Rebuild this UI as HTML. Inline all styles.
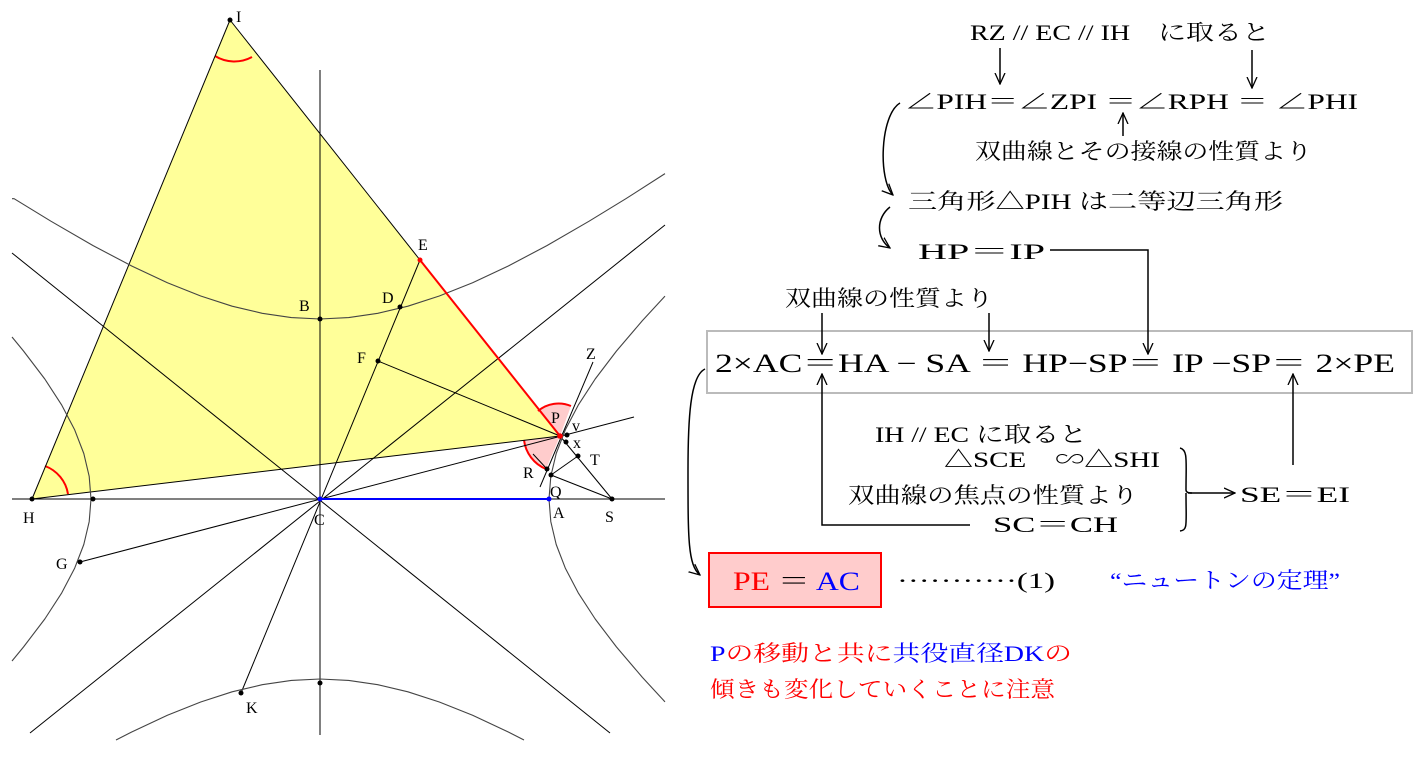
<!DOCTYPE html>
<html><head><meta charset="utf-8"><style>
html,body{margin:0;padding:0;background:#fff}
svg{display:block}
.t{font-family:"Liberation Serif","Noto Serif CJK JP","Noto Serif CJK SC",serif;fill:#000}
.s{font-family:"Liberation Serif",serif;font-size:16px;fill:#000}
</style></head><body>
<svg width="1427" height="757" viewBox="0 0 1427 757" xmlns="http://www.w3.org/2000/svg">
<defs>
<marker id="ah" viewBox="0 0 12 12" refX="11" refY="6" markerWidth="12" markerHeight="12" markerUnits="userSpaceOnUse" orient="auto">
<path d="M0,1 L11,6 L0,11" fill="none" stroke="#000" stroke-width="1.3"/>
</marker>
</defs>
<polygon points="230,20 32,499 560,436" fill="#ffff99"/>
<path d="M560,436 L538,411 A32,32 0 0 1 571,406 Z" fill="#ffcccc" stroke="none"/>
<path d="M538,411 A32,32 0 0 1 571,406" fill="none" stroke="#f00" stroke-width="2"/>
<path d="M560,436 L524,440 A36,36 0 0 0 546,469 Z" fill="#ffcccc" stroke="none"/>
<path d="M524,440 A36,36 0 0 0 546,469" fill="none" stroke="#f00" stroke-width="2"/>
<path d="M215,56 A37,37 0 0 0 252,57" fill="none" stroke="#f00" stroke-width="2"/>
<path d="M45,466 A36,36 0 0 1 68,494" fill="none" stroke="#f00" stroke-width="2"/>
<g fill="none" stroke="#000" stroke-width="1">
<line x1="12" y1="499" x2="665" y2="499"/>
<line x1="320" y1="70" x2="320" y2="735"/>
<line x1="12" y1="253" x2="610" y2="733"/>
<line x1="665" y1="225" x2="30" y2="733"/>
<line x1="80" y1="562" x2="634" y2="417"/>
<line x1="241" y1="693" x2="420" y2="260"/>
<line x1="230" y1="20" x2="32" y2="499"/>
<line x1="230" y1="20" x2="420" y2="260"/>
<line x1="32" y1="499" x2="560" y2="436"/>
<line x1="378" y1="361" x2="560" y2="436"/>
<line x1="540" y1="487" x2="593" y2="362"/>
<line x1="560" y1="436" x2="612" y2="499"/>
<line x1="551" y1="475" x2="612" y2="499"/>
<line x1="551" y1="475" x2="578" y2="456"/>
<line x1="533" y1="454" x2="547" y2="469"/>
</g>
<g fill="none" stroke="#444" stroke-width="1.1" stroke-linejoin="round">
<polyline points="665,296.1 642.4,320.6 616.5,351 595.2,379 578.2,405.2 565.3,429.9 556.2,453.5 550.8,476.4 549,499 550.8,521.6 556.2,544.5 565.3,568.1 578.2,592.8 595.2,619 616.5,647 642.4,677.4 665,701.9"/>
<polyline points="12,337 23.5,351 44.8,379 61.8,405.2 74.7,429.9 83.8,453.5 89.2,476.4 91,499 89.2,521.6 83.8,544.5 74.7,568.1 61.8,592.8 44.8,619 23.5,647 12,661"/>
<polyline points="12,198.7 14.1,198.7 50.9,221.2 93.1,245.6 131.7,266 167.4,282.7 200.7,296 232.1,306.2 262.2,313.3 291.3,317.6 320,319 348.7,317.6 377.8,313.3 407.9,306.2 439.3,296 472.6,282.7 508.3,266 546.9,245.6 589.1,221.2 625.9,198.7 665,173.6"/>
<polyline points="116,740 131.7,732 167.4,715.3 200.7,702 232.1,691.8 262.2,684.7 291.3,680.4 320,679 348.7,680.4 377.8,684.7 407.9,691.8 439.3,702 472.6,715.3 508.3,732 524,740"/>
</g>
<line x1="420" y1="260" x2="560" y2="436" stroke="#f00" stroke-width="2"/>
<line x1="320" y1="499" x2="549" y2="499" stroke="#00f" stroke-width="2"/>
<g fill="#000">
<circle cx="230" cy="20" r="2.5"/><circle cx="320" cy="319" r="2.5"/><circle cx="400" cy="307" r="2.5"/>
<circle cx="378" cy="361" r="2.5"/><circle cx="567" cy="435" r="2.5"/><circle cx="566" cy="442" r="2.5"/>
<circle cx="578" cy="456" r="2.5"/><circle cx="547" cy="469" r="2.5"/><circle cx="551" cy="475" r="2.5"/>
<circle cx="612" cy="499" r="2.5"/><circle cx="32" cy="499" r="2.5"/><circle cx="93" cy="499" r="2.5"/>
<circle cx="80" cy="562" r="2.5"/><circle cx="241" cy="693" r="2.5"/><circle cx="320" cy="683" r="2.5"/>
</g>
<circle cx="420" cy="260" r="2.5" fill="#f00"/><circle cx="560" cy="436" r="2.8" fill="#f00"/>
<circle cx="320" cy="499" r="2.5" fill="#00f"/><circle cx="549" cy="499" r="2.5" fill="#00f"/>
<text class="s" x="236" y="22">I</text><text class="s" x="418" y="250">E</text>
<text class="s" x="299" y="311">B</text><text class="s" x="382" y="303">D</text>
<text class="s" x="357" y="363">F</text><text class="s" x="551" y="423">P</text>
<text class="s" x="572" y="431">v</text><text class="s" x="573" y="448">x</text>
<text class="s" x="590" y="465">T</text><text class="s" x="523" y="478">R</text>
<text class="s" x="550" y="497">Q</text><text class="s" x="553" y="518">A</text>
<text class="s" x="605" y="522">S</text><text class="s" x="314" y="525">C</text>
<text class="s" x="23" y="523">H</text><text class="s" x="56" y="569">G</text>
<text class="s" x="246" y="713">K</text><text class="s" x="586" y="359">Z</text>

<g class="t" font-size="22">
<text x="970" y="40" textLength="300" lengthAdjust="spacingAndGlyphs">RZ // EC // IH　に取ると</text>
<text x="905" y="109" textLength="453" lengthAdjust="spacingAndGlyphs">∠PIH＝∠ZPI ＝∠RPH ＝ ∠PHI</text>
<text x="975" y="159" textLength="337" lengthAdjust="spacingAndGlyphs">双曲線とその接線の性質より</text>
<text x="908" y="209" textLength="375" lengthAdjust="spacingAndGlyphs">三角形△PIH は二等辺三角形</text>
<text x="918" y="259" textLength="127" lengthAdjust="spacingAndGlyphs">HP＝IP</text>
<text x="785" y="306" textLength="208" lengthAdjust="spacingAndGlyphs">双曲線の性質より</text>
<text x="875" y="442" textLength="212" lengthAdjust="spacingAndGlyphs">IH // EC に取ると</text>
<text x="944" y="467" textLength="216" lengthAdjust="spacingAndGlyphs">△SCE　∽△SHI</text>
<text x="848" y="503" textLength="290" lengthAdjust="spacingAndGlyphs">双曲線の焦点の性質より</text>
<text x="993" y="532" textLength="125" lengthAdjust="spacingAndGlyphs">SC＝CH</text>
<text x="1240" y="502" textLength="110" lengthAdjust="spacingAndGlyphs">SE＝EI</text>
<text x="897" y="588" textLength="158" lengthAdjust="spacingAndGlyphs">···········(1)</text>
<text x="1110" y="588" textLength="230" lengthAdjust="spacingAndGlyphs" fill="#00f">“ニュートンの定理”</text>
<text x="710" y="661" textLength="362" lengthAdjust="spacingAndGlyphs"><tspan fill="#00f">P</tspan><tspan fill="#f00">の移動と共に</tspan><tspan fill="#00f">共役直径DK</tspan><tspan fill="#f00">の</tspan></text>
<text x="710" y="697" textLength="345" lengthAdjust="spacingAndGlyphs" fill="#f00">傾きも変化していくことに注意</text>
</g>
<rect x="707" y="331" width="705" height="62" fill="none" stroke="#bbb" stroke-width="2"/>
<text class="t" font-size="26" x="715" y="372" textLength="680" lengthAdjust="spacingAndGlyphs">2×AC＝HA − SA ＝ HP−SP＝ IP −SP＝ 2×PE</text>
<rect x="709" y="553" width="172" height="54" fill="#ffcccc" stroke="#f00" stroke-width="2"/>
<text class="t" font-size="26" x="733" y="590" textLength="127" lengthAdjust="spacingAndGlyphs"><tspan fill="#f00">PE</tspan> ＝ <tspan fill="#00f">AC</tspan></text>

<g fill="none" stroke="#000" stroke-width="1.5">
<line x1="1000" y1="48" x2="1000" y2="84" marker-end="url(#ah)"/>
<line x1="1252" y1="50" x2="1252" y2="88" marker-end="url(#ah)"/>
<line x1="1123" y1="136" x2="1123" y2="113" marker-end="url(#ah)"/>
<path d="M900,103 C880,115 878,180 893,195" marker-end="url(#ah)"/>
<path d="M890,207 C876,218 876,238 890,248" marker-end="url(#ah)"/>
<polyline points="1050,250 1148,250 1148,354" marker-end="url(#ah)"/>
<line x1="822" y1="313" x2="822" y2="354" marker-end="url(#ah)"/>
<line x1="989" y1="313" x2="989" y2="351" marker-end="url(#ah)"/>
<polyline points="970,525 822,525 822,374" marker-end="url(#ah)"/>
<line x1="1293" y1="465" x2="1293" y2="374" marker-end="url(#ah)"/>
<path d="M1180,448 C1188,450 1186,460 1186,490 C1186,492 1188,493 1192,493 M1186,493 C1186,525 1188,530 1180,531"/>
<line x1="1188" y1="493" x2="1235" y2="493" marker-end="url(#ah)"/>
<path d="M705,369 C690,376 688,420 688,470 C688,540 688,565 700,575" marker-end="url(#ah)"/>
</g>
</svg>
</body></html>
